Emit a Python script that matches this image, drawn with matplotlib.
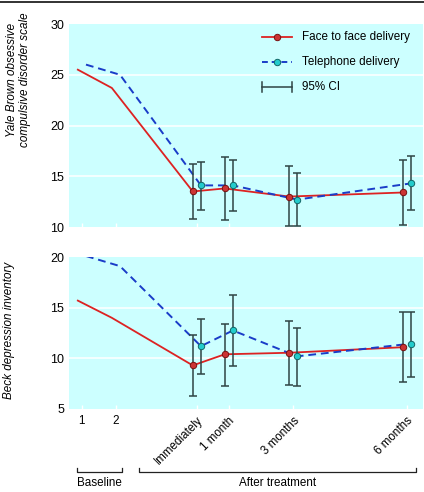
"""Y-BOCS and Beck scores, face to face vs telephone delivery."""
import matplotlib
matplotlib.use("Agg")
import matplotlib.pyplot as plt
from matplotlib.lines import Line2D
import matplotlib.transforms as mtrans

plt.rcParams["font.family"] = ["Liberation Sans", "DejaVu Sans"]
FS = 8.4

# x positions of the six assessment points (scale roughly as printed)
x_pos = [1.0, 2.0, 4.38, 5.32, 7.21, 10.56]
x_labels = ["1", "2", "Immediately", "1 month", "3 months", "6 months"]

# Yale Brown obsessive compulsive disorder scale
ybocs_face = [25.5, 23.7, 13.5, 13.8, 13.0, 13.4]
ybocs_tel = [26.0, 25.0, 14.1, 14.1, 12.7, 14.3]
ybocs_face_lo = [10.75, 10.7, 10.1, 10.2]
ybocs_face_hi = [16.2, 16.9, 16.0, 16.6]
ybocs_tel_lo = [11.7, 11.55, 10.1, 11.65]
ybocs_tel_hi = [16.4, 16.6, 15.3, 17.0]

# Beck depression inventory
beck_face = [15.7, 14.0, 9.3, 10.4, 10.55, 11.1]
beck_tel = [20.1, 19.1, 11.2, 12.75, 10.2, 11.45]
beck_face_lo = [6.3, 7.3, 7.4, 7.65]
beck_face_hi = [12.3, 13.4, 13.7, 14.6]
beck_tel_lo = [8.5, 9.2, 7.3, 8.2]
beck_tel_hi = [13.9, 16.3, 13.0, 14.6]

BG = "#ccffff"
RED = "#dd2222"
BLUE = "#1a3cc8"
CYAN = "#22cccc"
ECOL = "#2f4444"
off = 0.12

fig = plt.figure(figsize=(4.24, 4.92), dpi=100)
ax1 = fig.add_axes([0.1627, 0.5386, 0.835, 0.4126])
ax2 = fig.add_axes([0.1627, 0.1687, 0.835, 0.3089])

fig.add_artist(Line2D([0, 1], [0.996, 0.996], color="#222222", lw=1.3,
                      transform=fig.transFigure))


def panel(ax, face, tel, flo, fhi, tlo, thi, ylim, yticks, grid):
    ax.set_facecolor(BG)
    for sp in ax.spines.values():
        sp.set_visible(False)
    for g in grid:
        ax.axhline(g, color="white", lw=1.1, zorder=1)
    xf = [x - off for x in x_pos]
    xt = [x + off for x in x_pos]
    ax.plot(xf, face, color=RED, lw=1.3, zorder=3)
    ax.plot(xt, tel, color=BLUE, lw=1.4, ls=(0, (4, 2.5)), zorder=3)
    for xs, ys, lo, hi in ((xf, face, flo, fhi), (xt, tel, tlo, thi)):
        xe = xs[2:]
        ye = ys[2:]
        ax.errorbar(xe, ye, yerr=[[y - l for y, l in zip(ye, lo)],
                                  [h - y for y, h in zip(ye, hi)]],
                    fmt="none", ecolor=ECOL, elinewidth=1.1, capsize=3.2,
                    capthick=1.1, zorder=4, clip_on=False)
    ax.plot(xf[2:], face[2:], ls="none", marker="o", ms=4.6, mfc="#cc3333",
            mec="#771111", mew=0.7, zorder=5, clip_on=False)
    ax.plot(xt[2:], tel[2:], ls="none", marker="o", ms=4.6, mfc=CYAN,
            mec="#116666", mew=0.7, zorder=5, clip_on=False)
    ax.set_xlim(0.62, 11.03)
    ax.set_ylim(*ylim)
    ax.set_yticks(yticks)
    ax.set_xticks(x_pos)
    ax.tick_params(axis="y", length=0, labelsize=FS + 0.6, pad=3.6)
    ax.tick_params(axis="x", direction="in", length=3, color="white",
                   width=1, labelsize=FS, pad=4)


panel(ax1, ybocs_face, ybocs_tel, ybocs_face_lo, ybocs_face_hi,
      ybocs_tel_lo, ybocs_tel_hi, (10, 30), [10, 15, 20, 25, 30], [15, 20, 25])
panel(ax2, beck_face, beck_tel, beck_face_lo, beck_face_hi,
      beck_tel_lo, beck_tel_hi, (5, 20), [5, 10, 15, 20], [10, 15])
ax1.set_xticklabels([])
ax2.set_xticklabels(x_labels)
for i, lab in enumerate(ax2.get_xticklabels()):
    if i >= 2:
        lab.set_rotation(45)
        lab.set_ha("right")
        lab.set_va("top")
        lab.set_rotation_mode("anchor")

ax1.set_ylabel("Yale Brown obsessive\ncompulsive disorder scale",
               style="italic", fontsize=FS, linespacing=1.1)
ax2.set_ylabel("Beck depression inventory", style="italic", fontsize=FS)
ax1.yaxis.set_label_coords(-0.107, 0.724)
ax2.yaxis.set_label_coords(-0.153, 0.52)

# legend, drawn by hand in the top panel
tr = ax1.transAxes
lx0, lx1 = 0.545, 0.63
rows = [0.936, 0.812, 0.688]
ax1.plot([lx0, lx1], [rows[0]] * 2, color=RED, lw=1.3, transform=tr)
ax1.plot([(lx0 + lx1) / 2], [rows[0]], marker="o", ms=4.6, mfc="#cc3333",
         mec="#771111", mew=0.7, transform=tr)
ax1.plot([lx0, lx1], [rows[1]] * 2, color=BLUE, lw=1.4, ls=(0, (3, 2)),
         transform=tr)
ax1.plot([(lx0 + lx1) / 2], [rows[1]], marker="o", ms=4.6, mfc=CYAN,
         mec="#116666", mew=0.7, transform=tr)
ax1.plot([lx0, lx1], [rows[2]] * 2, color=ECOL, lw=1.1, transform=tr)
for xx in (lx0, lx1):
    ax1.plot([xx, xx], [rows[2] - 0.025, rows[2] + 0.025], color=ECOL,
             lw=1.1, transform=tr)
for r, t in zip(rows, ["Face to face delivery", "Telephone delivery",
                       "95% CI"]):
    ax1.text(lx1 + 0.028, r, t, transform=tr, fontsize=FS, va="center")

# baseline / after treatment brackets under the bottom panel
btr = mtrans.blended_transform_factory(ax2.transData, ax2.transAxes)
yb, yu = -0.414, -0.385
for xa, xb, lab in ((0.85, 2.18, "Baseline"), (2.68, 10.82, "After treatment")):
    ax2.plot([xa, xa, xb, xb], [yu, yb, yb, yu], color="#222222", lw=0.9,
             transform=btr, clip_on=False)
    ax2.text((xa + xb) / 2, yb - 0.035, lab, transform=btr, ha="center",
             va="top", fontsize=FS)

fig.savefig("out.png", dpi=100)
plt.close(fig)
